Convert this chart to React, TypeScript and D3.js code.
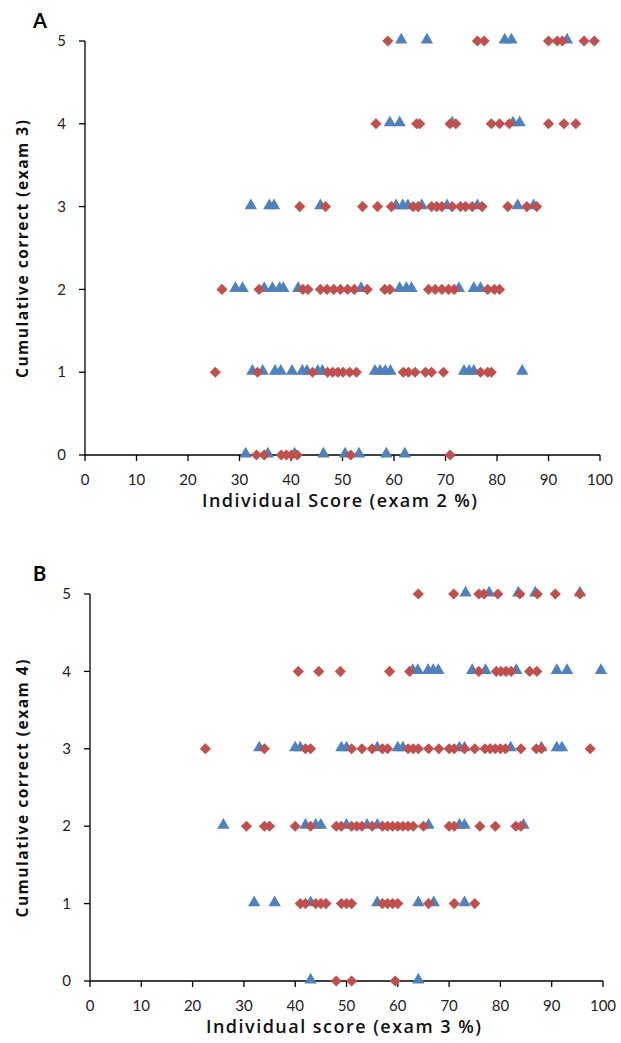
import React from "react";
import * as d3 from "d3";

// [score %, cumulative correct]
const aRed: [number, number][] = [
  [58.8, 5], [76.2, 5], [77.5, 5], [90.0, 5], [91.7, 5], [92.7, 5], [96.9, 5], [98.9, 5],
  [56.5, 4], [64.4, 4], [65.0, 4], [70.9, 4], [72.0, 4], [78.9, 4], [80.5, 4], [82.4, 4], [90.0, 4], [93.0, 4], [95.3, 4],
  [41.7, 3], [46.7, 3], [53.9, 3], [56.8, 3], [59.5, 3], [63.7, 3], [64.7, 3], [67.3, 3], [68.3, 3], [69.3, 3],
  [71.3, 3], [72.9, 3], [73.9, 3], [75.2, 3], [77.1, 3], [82.1, 3], [85.8, 3], [87.7, 3],
  [26.6, 2], [33.8, 2], [42.3, 2], [43.3, 2], [45.7, 2], [47.0, 2], [48.3, 2], [49.6, 2], [51.0, 2], [52.3, 2],
  [54.8, 2], [58.2, 2], [59.2, 2], [66.7, 2], [68.0, 2], [69.3, 2], [70.6, 2], [71.7, 2], [78.2, 2], [79.5, 2], [80.5, 2],
  [25.3, 1], [33.5, 1], [44.2, 1], [47.1, 1], [48.1, 1], [49.1, 1], [50.1, 1], [51.4, 1], [52.7, 1],
  [61.8, 1], [62.8, 1], [64.1, 1], [66.1, 1], [67.3, 1], [69.6, 1], [76.8, 1], [78.2, 1], [78.9, 1],
  [33.3, 0], [34.8, 0], [38.1, 0], [39.1, 0], [40.1, 0], [41.2, 0], [51.6, 0], [70.9, 0],
];

const aBlue: [number, number][] = [
  [61.4, 5], [66.4, 5], [81.5, 5], [82.8, 5], [93.6, 5],
  [59.2, 4], [61.1, 4], [71.3, 4], [83.1, 4], [84.4, 4],
  [32.2, 3], [35.8, 3], [36.7, 3], [45.7, 3], [60.4, 3], [61.7, 3], [62.7, 3], [65.4, 3], [70.3, 3], [76.2, 3], [84.0, 3], [87.1, 3],
  [29.2, 2], [30.6, 2], [34.8, 2], [36.4, 2], [37.8, 2], [38.5, 2], [41.4, 2], [53.6, 2], [61.1, 2], [62.4, 2], [63.4, 2], [72.6, 2], [75.5, 2], [76.8, 2],
  [32.5, 1], [34.5, 1], [36.9, 1], [38.0, 1], [40.2, 1], [42.2, 1], [43.1, 1], [45.2, 1], [46.1, 1],
  [56.3, 1], [57.3, 1], [58.3, 1], [59.3, 1], [73.6, 1], [74.6, 1], [75.5, 1], [84.9, 1],
  [31.2, 0], [35.5, 0], [40.7, 0], [46.3, 0], [50.5, 0], [53.2, 0], [58.5, 0], [62.1, 0],
];

const bRed: [number, number][] = [
  [64.0, 5], [70.9, 5], [75.8, 5], [76.8, 5], [79.5, 5], [83.8, 5], [87.2, 5], [90.7, 5], [95.5, 5],
  [40.6, 4], [44.6, 4], [48.8, 4], [58.4, 4], [62.3, 4], [75.8, 4], [79.2, 4], [80.1, 4], [81.1, 4], [82.1, 4], [85.7, 4], [87.1, 4],
  [22.5, 3], [34, 3], [42, 3], [43, 3], [51, 3], [53, 3], [55, 3], [57, 3], [58, 3], [62, 3], [63, 3], [64, 3], [66, 3], [68, 3],
  [70, 3], [71, 3], [73, 3], [75, 3], [77, 3], [78, 3], [79, 3], [80, 3], [81, 3], [84, 3], [87, 3], [88, 3], [97.5, 3],
  [30.5, 2], [34, 2], [35, 2], [40, 2], [43, 2], [48, 2], [49, 2], [51, 2], [52, 2], [53, 2], [55, 2], [57, 2], [58, 2],
  [59, 2], [60, 2], [61, 2], [62, 2], [63, 2], [65, 2], [70, 2], [71, 2], [76, 2], [79, 2], [83, 2], [84, 2],
  [41, 1], [42, 1], [44, 1], [45, 1], [46, 1], [49, 1], [50, 1], [51, 1], [57, 1], [58, 1], [59, 1], [60, 1], [66, 1], [71, 1], [75, 1],
  [48, 0], [51, 0], [59.5, 0],
];

const bBlue: [number, number][] = [
  [73.2, 5], [77.8, 5], [83.5, 5], [86.8, 5], [95.5, 5],
  [62.9, 4], [63.9, 4], [65.9, 4], [66.9, 4], [67.9, 4], [74.5, 4], [77.1, 4], [83.1, 4], [91.0, 4], [93.0, 4], [99.6, 4],
  [33, 3], [40, 3], [41, 3], [49, 3], [50, 3], [56, 3], [60, 3], [61, 3], [72, 3], [73, 3], [82, 3], [88, 3], [91, 3], [92, 3],
  [26, 2], [42, 2], [44, 2], [45, 2], [50, 2], [54, 2], [56, 2], [66, 2], [72, 2], [73, 2], [84.5, 2],
  [32, 1], [36, 1], [43, 1], [56, 1], [64, 1], [67, 1], [73, 1],
  [43, 0], [64, 0],
];

const xTicks = [0, 10, 20, 30, 40, 50, 60, 70, 80, 90, 100];
const yTicks = [0, 1, 2, 3, 4, 5];

const RED = "#C0504D";
const BLUE = "#4F81BD";
const FONT = "Lato, 'Open Sans', sans-serif";
const TITLE_FONT = "'Open Sans', Lato, sans-serif";

const diamond = d3.symbol(d3.symbolSquare, 62)() || "";
const triangle = d3.symbol(d3.symbolTriangle, 66)() || "";

interface PanelProps {
  letter: string;
  red: [number, number][];
  blue: [number, number][];
  xTitle: string;
  yTitle: string;
  left: number;
  right: number;
  top: number;
  bottom: number;
}

function Panel({ letter, red, blue, xTitle, yTitle, left, right, top, bottom }: PanelProps) {
  const x = d3.scaleLinear().domain([0, 100]).range([left, right]);
  const y = d3.scaleLinear().domain([0, 5]).range([bottom, top]);
  return (
    <g fontFamily={FONT}>
      <text x={33} y={top - 13} fontSize={20} fontWeight={700} fill="#000">
        {letter}
      </text>
      {/* axes */}
      <line x1={left} x2={left} y1={top} y2={bottom} stroke="#000" strokeWidth={1.3} />
      <line x1={left} x2={right} y1={bottom} y2={bottom} stroke="#000" strokeWidth={1.3} />
      {yTicks.map((t) => (
        <g key={"y" + t}>
          <line x1={left - 6} x2={left} y1={y(t)} y2={y(t)} stroke="#000" strokeWidth={1.3} />
          <text x={left - 19} y={y(t)} dy="0.35em" textAnchor="end" fontSize={15} fill="#222">
            {t}
          </text>
        </g>
      ))}
      {xTicks.map((t) => (
        <g key={"x" + t}>
          <line x1={x(t)} x2={x(t)} y1={bottom} y2={bottom + 6} stroke="#000" strokeWidth={1.3} />
          <text x={x(t)} y={bottom + 25} dy="0.35em" textAnchor="middle" fontSize={15} fill="#222">
            {t}
          </text>
        </g>
      ))}
      <text
        x={(left + right) / 2 - 3}
        y={bottom + 52}
        textAnchor="middle"
        fontFamily={TITLE_FONT}
        fontSize={18}
        fontWeight={600}
        fill="#111"
        textLength={275}
      >
        {xTitle}
      </text>
      <text
        transform={`translate(28,${(top + bottom) / 2 + 1}) rotate(-90)`}
        textAnchor="middle"
        fontFamily={TITLE_FONT}
        fontSize={15.5}
        fontWeight={700}
        fill="#111"
        textLength={258}
      >
        {yTitle}
      </text>
      {/* points */}
      {blue.map(([s, c], i) => (
        <path key={"b" + i} d={triangle} transform={`translate(${x(s)},${y(c) - 1})`} fill={BLUE} />
      ))}
      {red.map(([s, c], i) => (
        <path key={"r" + i} d={diamond} transform={`translate(${x(s)},${y(c)}) rotate(45)`} fill={RED} />
      ))}
    </g>
  );
}

export default function App() {
  return (
    <div style={{ position: "absolute", left: 0, top: 0 }}>
      <svg width={621} height={1043} style={{ display: "block", background: "#fff" }}>
        <Panel
          letter="A"
          red={aRed}
          blue={aBlue}
          xTitle="Individual Score (exam 2 %)"
          yTitle="Cumulative correct (exam 3)"
          left={85}
          right={600}
          top={41}
          bottom={455}
        />
        <Panel
          letter="B"
          red={bRed}
          blue={bBlue}
          xTitle="Individual score (exam 3 %)"
          yTitle="Cumulative correct (exam 4)"
          left={90}
          right={603}
          top={594}
          bottom={981}
        />
      </svg>
    </div>
  );
}
